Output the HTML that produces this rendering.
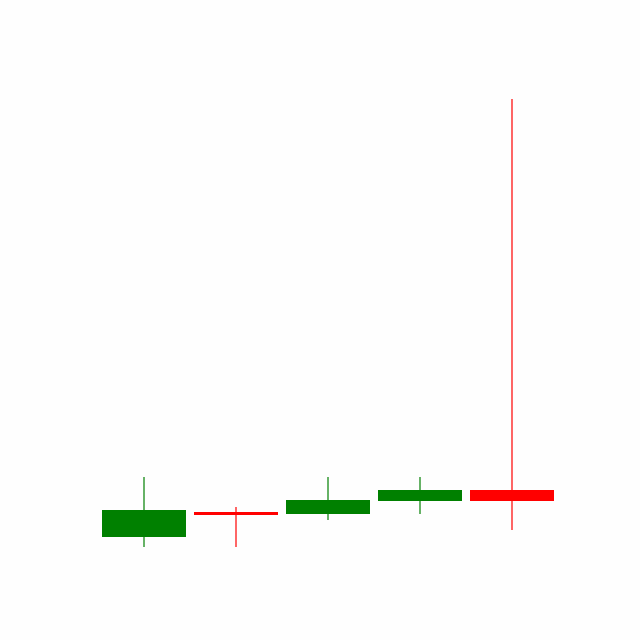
<!DOCTYPE html>
<html><head><meta charset="utf-8"><style>
html,body{margin:0;padding:0;background:#fefefe;}
svg{display:block;}
</style></head><body>
<svg id="chart" width="640" height="640" viewBox="0 0 640 640">
<rect width="640" height="640" fill="#fefefe"/>
<g id="marks"></g>
</svg>
<script>
const categories = ["c1","c2","c3","c4","c5"];
const opens  = [1.0, 3.5, 3.3, 4.6, 5.7];
const closes = [3.7, 3.2, 4.7, 5.7, 4.6];
const highs  = [7.0, 4.0, 7.0, 7.0, 44.8];
const lows   = [0.0, 0.0, 2.7, 3.3, 1.7];

const yScale = v => 547 - v * 10;
const step = 92, x0 = 144, bodyW = 84;
const xScale = i => x0 + i * step;
const ns = "http://www.w3.org/2000/svg";
const g = document.getElementById("marks");
categories.forEach((c, i) => {
  const up = closes[i] >= opens[i];
  const col = up ? "#008000" : "#ff0000";
  const cx = xScale(i);
  const wick = document.createElementNS(ns, "line");
  wick.setAttribute("x1", cx); wick.setAttribute("x2", cx);
  wick.setAttribute("y1", yScale(highs[i])); wick.setAttribute("y2", yScale(lows[i]));
  wick.setAttribute("stroke", col); wick.setAttribute("stroke-width", 1.2);
  
  
  g.appendChild(wick);
  const top = yScale(Math.max(opens[i], closes[i]));
  const bot = yScale(Math.min(opens[i], closes[i]));
  const body = document.createElementNS(ns, "rect");
  body.setAttribute("x", cx - bodyW / 2);
  body.setAttribute("width", bodyW);
  body.setAttribute("y", top);
  body.setAttribute("height", Math.max(bot - top, 1));
  body.setAttribute("fill", col);
  
  
  g.appendChild(body);
});
</script>
</body></html>
